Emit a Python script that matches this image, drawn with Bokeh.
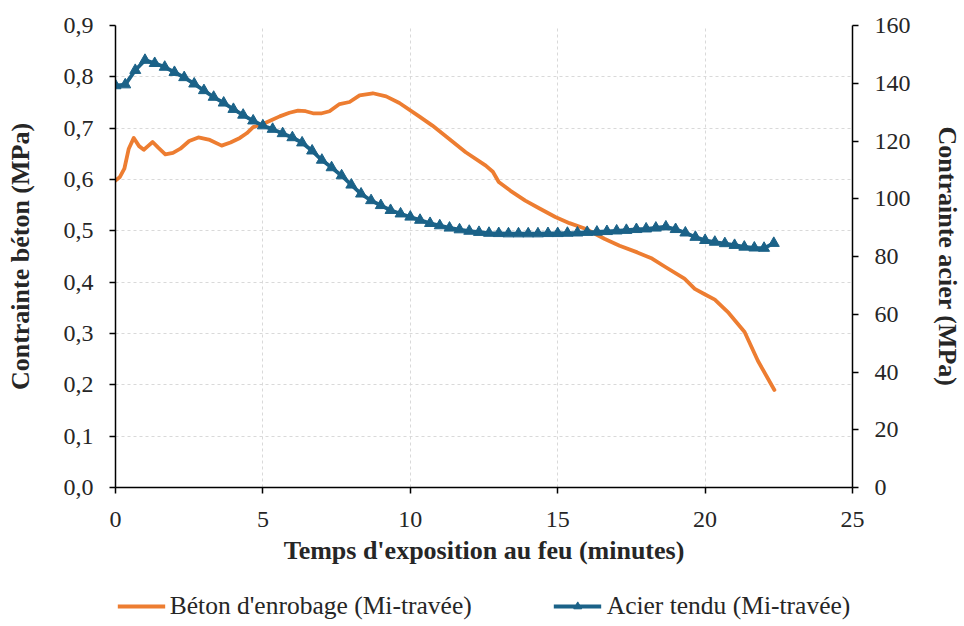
from bokeh.plotting import figure
from bokeh.layouts import column
from bokeh.models import (Range1d, LinearAxis, FixedTicker, CustomJSTickFormatter,
                          Legend, LegendItem, ColumnDataSource)
from bokeh.embed import file_html
from bokeh.resources import INLINE

# ---- data ----
beton_t = [0, 0.15, 0.3, 0.45, 0.62, 0.8, 0.96, 1.1, 1.26, 1.45, 1.69, 1.95, 2.2, 2.5,
           2.81, 3.2, 3.6, 3.9, 4.22, 4.45, 4.67, 5.0, 5.3, 5.57, 5.9, 6.19, 6.45, 6.7,
           7.0, 7.26, 7.6, 7.94, 8.28, 8.73, 9.18, 9.63, 10.3, 10.75, 11.3, 11.88, 12.56,
           12.8, 13.0, 13.4, 13.9, 14.4, 14.92, 15.4, 15.94, 16.6, 17.1, 17.7, 18.2,
           18.64, 19.3, 19.65, 20.0, 20.33, 20.8, 21.34, 21.79, 22.35]
beton_v = [0.598, 0.605, 0.621, 0.66, 0.681, 0.665, 0.658, 0.665, 0.673, 0.662, 0.649,
           0.652, 0.66, 0.675, 0.682, 0.677, 0.666, 0.672, 0.681, 0.69, 0.702, 0.708,
           0.716, 0.723, 0.73, 0.734, 0.733, 0.729, 0.729, 0.733, 0.747, 0.751, 0.764,
           0.768, 0.762, 0.749, 0.723, 0.705, 0.68, 0.653, 0.627, 0.615, 0.595, 0.578,
           0.559, 0.543, 0.527, 0.515, 0.504, 0.484, 0.471, 0.458, 0.446, 0.43, 0.407,
           0.387, 0.376, 0.366, 0.34, 0.303, 0.247, 0.19]

acier_t = [0, 0.33, 0.67, 1.0, 1.33, 1.67, 2.0, 2.33, 2.67, 3.0, 3.33, 3.67, 4.0, 4.33,
           4.67, 5.0, 5.33, 5.67, 6.0, 6.33, 6.67, 7.0, 7.33, 7.67, 8.0, 8.33, 8.67, 9.0,
           9.33, 9.67, 10.0, 10.33, 10.67, 11.0, 11.33, 11.67, 12.0, 12.33, 12.67, 13.0,
           13.33, 13.67, 14.0, 14.33, 14.67, 15.0, 15.33, 15.67, 16.0, 16.33, 16.67, 17.0,
           17.33, 17.67, 18.0, 18.33, 18.67, 19.0, 19.33, 19.67, 20.0, 20.33, 20.67, 21.0,
           21.33, 21.67, 22.0, 22.33]
acier_v = [139.2, 139.5, 144.5, 148.0, 146.9, 145.6, 143.8, 142.0, 139.8, 137.5, 135.2,
           133.2, 131.0, 129.0, 127.0, 125.3, 124.1, 122.6, 121.2, 119.4, 116.6, 113.4,
           110.8, 108.0, 104.8, 101.7, 99.4, 97.7, 96.0, 94.8, 93.7, 92.6, 91.5, 90.7,
           89.9, 89.3, 88.8, 88.4, 88.1, 88.0, 87.9, 87.9, 87.9, 87.9, 88.0, 88.0, 88.1,
           88.2, 88.4, 88.5, 88.7, 88.9, 89.1, 89.4, 89.6, 89.9, 90.3, 89.4, 88.2, 86.7,
           85.6, 85.0, 84.5, 83.9, 83.3, 83.0, 82.9, 84.6]

x_ticks = [0, 5, 10, 15, 20, 25]
left_ticks = [0, 0.1, 0.2, 0.3, 0.4, 0.5, 0.6, 0.7, 0.8, 0.9]
right_ticks = [0, 20, 40, 60, 80, 100, 120, 140, 160]
labels = ["Béton d'enrobage (Mi-travée)", "Acier tendu (Mi-travée)"]

ORANGE = "#ED7D31"
BLUE = "#1B6288"
FONT = "Liberation Serif"
TXT = "#262626"

W, H1, H2 = 964, 586, 39
p = figure(width=W, height=H1,
           x_range=Range1d(0, 25), y_range=Range1d(0, 0.9),
           output_backend="svg", toolbar_location=None,
           min_border_left=115, min_border_right=W - 855, min_border_top=25,
           min_border_bottom=H1 - 487)
p.outline_line_color = None
p.extra_y_ranges = {"acier": Range1d(0, 160)}

# grid
for g in (p.xgrid, p.ygrid):
    g.grid_line_color = "#D9D9D9"
    g.grid_line_dash = "3 3"
    g.grid_line_width = 1
p.xgrid.ticker = FixedTicker(ticks=x_ticks)
p.ygrid.ticker = FixedTicker(ticks=left_ticks)

# axes
xa = p.xaxis[0]
xa.ticker = FixedTicker(ticks=x_ticks)
xa.axis_label = "Temps d'exposition au feu (minutes)"
ya = p.yaxis[0]
ya.ticker = FixedTicker(ticks=left_ticks)
ya.formatter = CustomJSTickFormatter(code="return tick.toFixed(1).replace('.', ',');")
ya.axis_label = "Contrainte béton (MPa)"

ra = LinearAxis(y_range_name="acier", ticker=FixedTicker(ticks=right_ticks),
                axis_label="Contrainte acier (MPa)")
p.add_layout(ra, "right")

for ax in (xa, ya, ra):
    ax.axis_line_color = "black"
    ax.axis_line_width = 1.5
    ax.major_tick_line_color = "black"
    ax.major_tick_line_width = 1.5
    ax.major_tick_out = 6
    ax.major_tick_in = 0
    ax.minor_tick_line_color = None
    ax.major_label_text_font = FONT
    ax.major_label_text_font_size = "24px"
    ax.major_label_text_color = TXT
    ax.axis_label_text_font = FONT
    ax.axis_label_text_font_size = "26px"
    ax.axis_label_text_font_style = "bold"
    ax.axis_label_text_color = TXT
xa.major_label_standoff = 18
ya.major_label_standoff = 16
ra.major_label_standoff = 16
xa.axis_label_standoff = 6
ya.axis_label_standoff = 26
ra.axis_label_standoff = 19

# series
p.line(beton_t, beton_v, line_color=ORANGE, line_width=3.8,
       line_join="round", line_cap="round")
src = ColumnDataSource(dict(t=acier_t, v=acier_v))
p.line("t", "v", source=src, y_range_name="acier", line_color=BLUE,
       line_width=3.8, line_join="round")
p.scatter("t", "v", source=src, y_range_name="acier", marker="triangle",
          size=11, fill_color=BLUE, line_color=BLUE)

# legend strip below the chart (proxy renderers with no visible data)
nan = float("nan")
q = figure(width=W, height=H2, x_range=Range1d(0, 1), y_range=Range1d(0, 1),
           output_backend="svg", toolbar_location=None,
           x_axis_location=None, y_axis_location=None,
           min_border_left=0, min_border_right=0, min_border_top=0, min_border_bottom=0)
q.outline_line_color = None
q.xgrid.visible = False
q.ygrid.visible = False
l_or = q.line([nan, nan], [nan, nan], line_color=ORANGE, line_width=3.8)
l_bl = q.line([nan, nan], [nan, nan], line_color=BLUE, line_width=3.8)
m_bl = q.scatter([nan], [nan], marker="triangle", size=11, fill_color=BLUE, line_color=BLUE)
legend = Legend(items=[LegendItem(label=labels[0], renderers=[l_or]),
                       LegendItem(label=labels[1], renderers=[l_bl, m_bl])],
                orientation="horizontal", location="center",
                label_text_font=FONT, label_text_font_size="25.5px",
                label_text_color=TXT, glyph_width=48, label_standoff=5,
                spacing=82, border_line_color=None, background_fill_alpha=0,
                margin=0, padding=2)
q.add_layout(legend, "center")

open("out.html", "w").write(file_html(column(p, q), INLINE))
